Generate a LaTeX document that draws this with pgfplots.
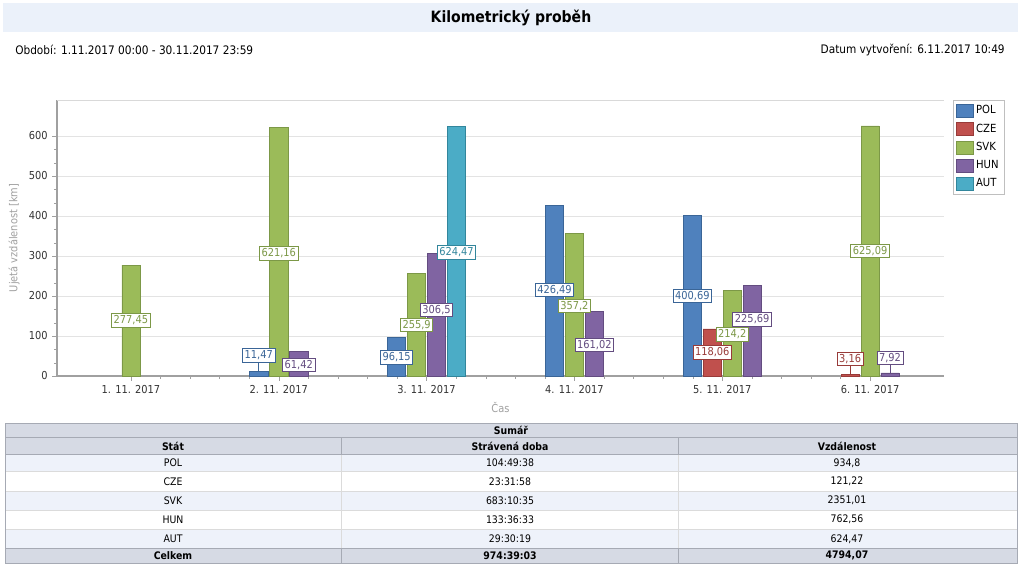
\documentclass[border=0pt]{standalone}
\usepackage{pgfplots}
\pgfplotsset{compat=1.18}
\usepackage{fontspec}
\setmainfont{DejaVu Sans Condensed}
\definecolor{cPOL}{HTML}{4F81BD}
\definecolor{cCZE}{HTML}{C0504D}
\definecolor{cSVK}{HTML}{9BBB59}
\definecolor{cHUN}{HTML}{8064A2}
\definecolor{cAUT}{HTML}{4BACC6}
\definecolor{dPOL}{HTML}{3A6597}
\definecolor{dCZE}{HTML}{983B39}
\definecolor{dSVK}{HTML}{7C9847}
\definecolor{dHUN}{HTML}{634C80}
\definecolor{dAUT}{HTML}{32869C}
\definecolor{titlebg}{HTML}{EBF1FA}
\definecolor{hdr}{HTML}{D6DAE4}
\definecolor{hdrline}{HTML}{A6AAB4}
\definecolor{alt}{HTML}{EEF2FA}
\definecolor{axgray}{HTML}{A0A0A0}
\tikzset{lbl/.style={anchor=center, draw=#1, text=#1, fill=white, inner sep=1.6pt, line width=0.6pt, font=\fontsize{8.2}{9}\selectfont}}
\pgfplotsset{sq legend/.style={legend image code/.code={\draw[##1] (0pt,-4.9pt) rectangle (12.75pt,4.9pt);}}}
\begin{document}
\begin{tikzpicture}[x=0.75pt,y=-0.75pt]
\fill[white] (0,0) rectangle (1024,571);
\path[use as bounding box] (0,0) rectangle (1024,571);
\fill[titlebg] (3,3) rectangle (1018,32);
\node[font=\bfseries\fontsize{11.7}{14}\selectfont] at (511,18) {Kilometrický proběh};
\node[anchor=west, inner sep=0pt, font=\fontsize{8.8}{10}\selectfont] at (15,50) {Období: 1.11.2017 00:00 - 30.11.2017 23:59};
\node[anchor=east, inner sep=0pt, font=\fontsize{8.8}{10}\selectfont] at (1005,50) {Datum vytvoření: 6.11.2017 10:49};

\begin{axis}[at={(42.75pt,-282pt)}, anchor=south west,
  width=665.25pt, height=207pt, scale only axis,
  xmin=0.5, xmax=6.5, ymin=0, ymax=690,
  xtick={1,2,3,4,5,6},
  xticklabels={1. 11. 2017, 2. 11. 2017, 3. 11. 2017, 4. 11. 2017, 5. 11. 2017, 6. 11. 2017},
  ytick={0,100,...,600},
  minor x tick num=4, minor y tick num=2,
  ymajorgrids, grid style={gray!22},
  axis x line*=bottom, axis y line*=left,
  axis line style={axgray, line width=0.8pt},
  tick style={axgray}, tick align=outside,
  major tick length=3.5pt, minor tick length=2pt,
  ticklabel style={font=\fontsize{8.2}{9}\selectfont, text=black!80},
  /pgf/number format/assume math mode=true,
  ylabel={Ujetá vzdálenost [km]}, xlabel={Čas},
  label style={font=\fontsize{8.2}{9}\selectfont, text=axgray},
  legend style={at={(1.0101,1)}, anchor=north west, draw=gray!50, font=\fontsize{8.4}{9}\selectfont, row sep=2pt, inner sep=2pt},
  legend cell align=left,
  clip=false,
  after end axis/.code={\draw[gray!30] (rel axis cs:0,1) -- (rel axis cs:1,1);}
]
\addplot[ybar, bar width=13.6pt, bar shift=0pt, fill=cPOL, draw=dPOL, sq legend] coordinates {(1.865,11.47) (2.7975,96.15) (3.865,426.49) (4.7975,400.69)};
\addlegendentry{POL}
\addplot[ybar, bar width=13.6pt, bar shift=0pt, fill=cCZE, draw=dCZE, sq legend] coordinates {(4.9325,118.06) (5.865,3.16)};
\addlegendentry{CZE}
\addplot[ybar, bar width=13.6pt, bar shift=0pt, fill=cSVK, draw=dSVK, sq legend] coordinates {(1,277.45) (2,621.16) (2.9325,255.9) (4,357.2) (5.0675,214.2) (6,625.09)};
\addlegendentry{SVK}
\addplot[ybar, bar width=13.6pt, bar shift=0pt, fill=cHUN, draw=dHUN, sq legend] coordinates {(2.135,61.42) (3.0675,306.5) (4.135,161.02) (5.2025,225.69) (6.135,7.92)};
\addlegendentry{HUN}
\addplot[ybar, bar width=13.6pt, bar shift=0pt, fill=cAUT, draw=dAUT, sq legend] coordinates {(3.2025,624.47)};
\addlegendentry{AUT}
% leader lines
\addplot[forget plot, dPOL, line width=0.6pt] coordinates {(1.865,11.47) (1.865,45)};
\addplot[forget plot, dCZE, line width=0.6pt] coordinates {(5.865,3.16) (5.865,38)};
\addplot[forget plot, dHUN, line width=0.6pt] coordinates {(6.135,7.92) (6.135,40)};
% labels
\addplot[forget plot, draw=none, mark=none, nodes near coords, point meta=explicit symbolic, every node near coord/.style={lbl=dPOL}] table[meta=l] {
x y l
1.865 52 11,47
2.7975 46.7 96,15
3.865 215 426,49
4.7975 200 400,69
};
\addplot[forget plot, draw=none, mark=none, nodes near coords, point meta=explicit symbolic, every node near coord/.style={lbl=dCZE}] table[meta=l] {
x y l
4.9325 59 118,06
5.865 42.5 3,16
};
\addplot[forget plot, draw=none, mark=none, nodes near coords, point meta=explicit symbolic, every node near coord/.style={lbl=dSVK}] table[meta=l] {
x y l
1 138.7 277,45
2 307 621,16
2.9325 127.5 255,9
4 175 357,2
5.0675 104 214,2
6 312.5 625,09
};
\addplot[forget plot, draw=none, mark=none, nodes near coords, point meta=explicit symbolic, every node near coord/.style={lbl=dHUN}] table[meta=l] {
x y l
2.135 28 61,42
3.0675 165 306,5
4.135 77.5 161,02
5.2025 141.7 225,69
6.135 45.5 7,92
};
\addplot[forget plot, draw=none, mark=none, nodes near coords, point meta=explicit symbolic, every node near coord/.style={lbl=dAUT}] table[meta=l] {
x y l
3.2025 309 624,47
};
\end{axis}

% table
\fill[hdr] (5,423.3) rectangle (1017,454);
\fill[alt] (5,454) rectangle (1017,471.7);
\fill[alt] (5,491) rectangle (1017,510);
\fill[alt] (5,529.3) rectangle (1017,548.3);
\fill[hdr] (5,548.3) rectangle (1017,563.3);
\draw[gray!28] (5,471.7) -- (1017,471.7) (5,491) -- (1017,491) (5,510) -- (1017,510) (5,529.3) -- (1017,529.3);
\draw[gray!28] (341.7,454) -- (341.7,548.3) (678,454) -- (678,548.3);
\draw[hdrline] (341.7,437.7) -- (341.7,454) (678,437.7) -- (678,454) (341.7,548.3) -- (341.7,563.3) (678,548.3) -- (678,563.3);
\draw[hdrline] (5,437.7) -- (1017,437.7) (5,454) -- (1017,454) (5,548.3) -- (1017,548.3);
\draw[hdrline] (5,423.3) rectangle (1017,563.3);
\begin{scope}[every node/.style={font=\fontsize{7.8}{9}\selectfont, inner sep=0pt}]
\node[font=\bfseries\fontsize{7.8}{9}\selectfont] at (511,430.5) {Sumář};
\node[font=\bfseries\fontsize{7.8}{9}\selectfont] at (173,446) {Stát};
\node[font=\bfseries\fontsize{7.8}{9}\selectfont] at (510,446) {Strávená doba};
\node[font=\bfseries\fontsize{7.8}{9}\selectfont] at (847,446) {Vzdálenost};
\node at (173,462.8) {POL}; \node at (510,462.8) {104:49:38}; \node at (847,462.8) {934,8};
\node at (173,481.3) {CZE}; \node at (510,481.3) {23:31:58}; \node at (847,481.3) {121,22};
\node at (173,500.5) {SVK}; \node at (510,500.5) {683:10:35}; \node at (847,500.5) {2351,01};
\node at (173,519.6) {HUN}; \node at (510,519.6) {133:36:33}; \node at (847,519.6) {762,56};
\node at (173,538.8) {AUT}; \node at (510,538.8) {29:30:19}; \node at (847,538.8) {624,47};
\node[font=\bfseries\fontsize{7.8}{9}\selectfont] at (173,555.8) {Celkem};
\node[font=\bfseries\fontsize{7.8}{9}\selectfont] at (510,555.8) {974:39:03};
\node[font=\bfseries\fontsize{7.8}{9}\selectfont] at (847,555.8) {4794,07};
\end{scope}
\end{tikzpicture}
\end{document}
